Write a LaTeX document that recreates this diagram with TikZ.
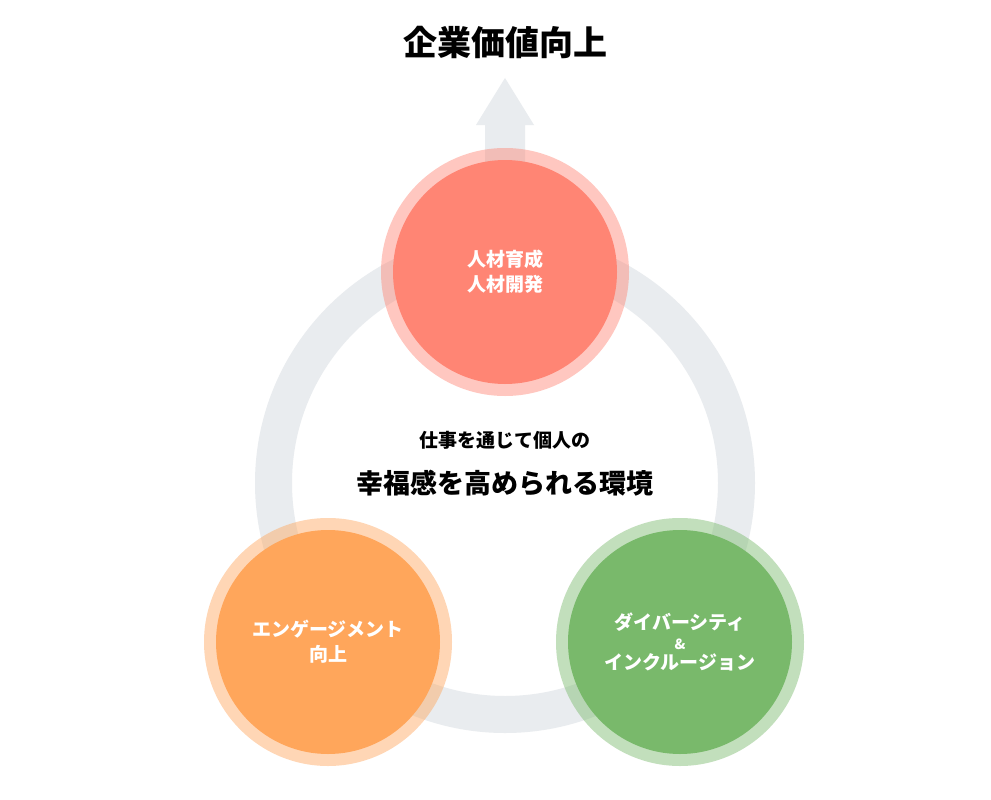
\documentclass[tikz,border=0pt]{standalone}
\usepackage{fontspec}
\setmainfont{Noto Sans CJK JP}
\begin{document}
\begin{tikzpicture}[x=1pt,y=-1pt,
  halo/.style={fill=#1,opacity=0.45},
  core/.style={fill=#1},
  lbl/.style={text=white,font=\bfseries\fontsize{19}{25}\selectfont,align=center}]
\definecolor{ringc}{HTML}{E9ECEF}
\definecolor{redc}{HTML}{FF8574}
\definecolor{orgc}{HTML}{FFA65B}
\definecolor{grnc}{HTML}{79B96B}
\useasboundingbox[fill=white] (0,0) rectangle (991,800);
\coordinate (c) at (505,483);
\fill[ringc,even odd rule] (c) circle (250) (c) circle (213);
\fill[ringc] (485,240) -- (485,125) -- (476,125) -- (505,78) -- (534,125) -- (525,125) -- (525,240) -- cycle;
\node[font=\bfseries\fontsize{34}{40}\selectfont] (title) at (505,42) {企業価値向上};
\node[font=\bfseries\fontsize{19}{24}\selectfont] (t1) at (505,440) {仕事を通じて個人の};
\node[font=\bfseries\fontsize{27}{32}\selectfont] (t2) at (505,483) {幸福感を高められる環境};
\fill[halo=redc] (505,272) circle (124);
\fill[core=redc] (505,272) circle (112);
\node[lbl] (r) at (505,272) {人材育成\\人材開発};
\fill[halo=orgc] (328,642) circle (124);
\fill[core=orgc] (328,642) circle (112);
\node[lbl] (o) at (328,642) {エンゲージメント\\向上};
\fill[halo=grnc] (680,642) circle (124);
\fill[core=grnc] (680,642) circle (112);
\node[lbl,font=\bfseries\fontsize{19}{20}\selectfont] (g) at (680,642) {ダイバーシティ\\{\fontsize{14}{14}\selectfont\&}\\インクルージョン};
\end{tikzpicture}
\end{document}
